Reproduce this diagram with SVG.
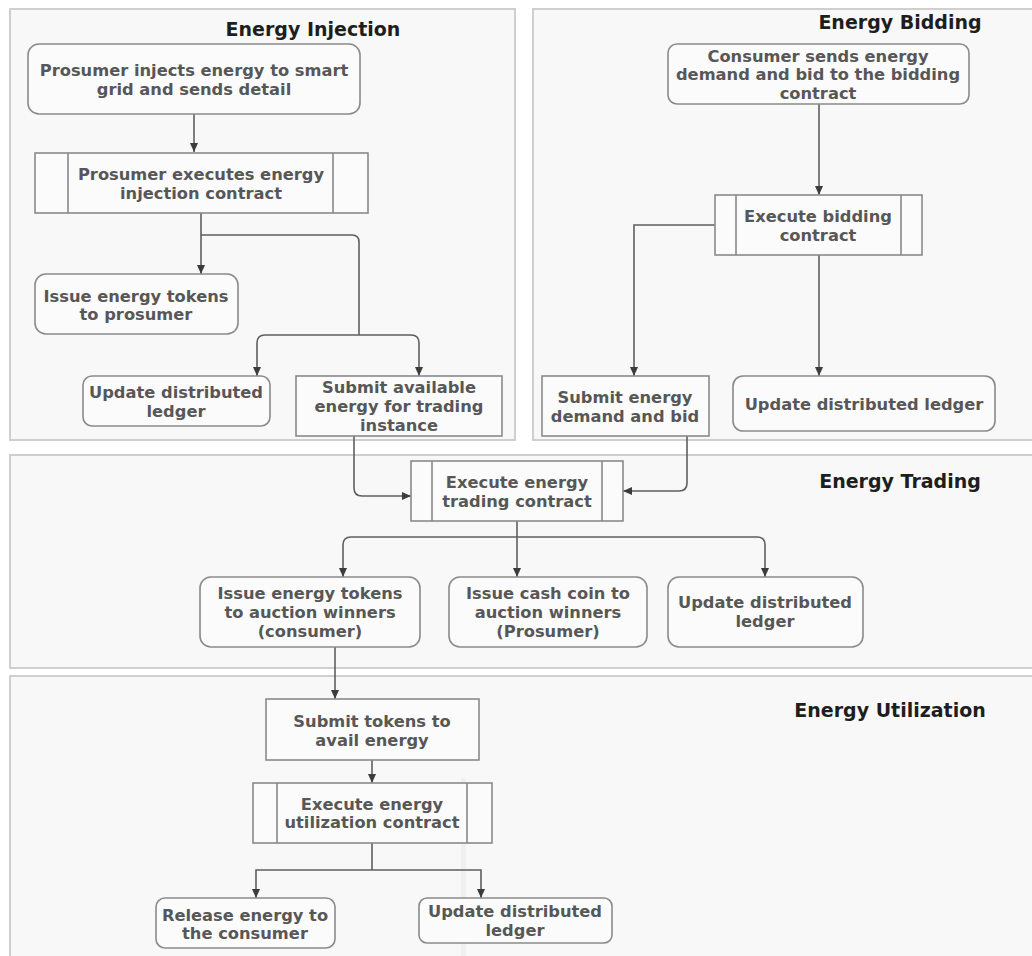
<svg xmlns="http://www.w3.org/2000/svg" width="1032" height="956" viewBox="0 0 1032 956">
  <style>
    .panel { fill: #f8f8f8; stroke: #cfcfcf; stroke-width: 2; }
    .title { font-family: "DejaVu Sans", Verdana, sans-serif; font-weight: bold; font-size: 19px; fill: #1e1e1e; text-anchor: middle; }
    .box { fill: #fbfbfb; stroke: #8a8a8a; stroke-width: 1.6; }
    .bar { fill: none; stroke: #8a8a8a; stroke-width: 1.6; }
    .lbl { font-family: "DejaVu Sans", Verdana, sans-serif; font-weight: bold; font-size: 16.3px; fill: #575757; text-anchor: middle; }
    .edge { fill: none; stroke: #5f5f5f; stroke-width: 1.6; }
    .arr { marker-end: url(#head); }
  </style>
  <defs>
    <marker id="head" markerWidth="9" markerHeight="8" refX="9" refY="4" orient="auto" markerUnits="userSpaceOnUse">
      <path d="M0,0 L9,4 L0,8 z" fill="#3c3c3c"/>
    </marker>
  </defs>

  <rect width="1032" height="956" fill="#ffffff"/>

  <!-- swimlane panels -->
  <g id="lanes">
    <rect class="panel" x="10" y="9" width="505" height="431"/>
    <rect class="panel" x="533" y="9" width="510" height="431"/>
    <rect class="panel" x="10" y="455" width="1033" height="213"/>
    <rect class="panel" x="10" y="676" width="1033" height="290"/>
    <!-- faint scan seam in the lower lane -->
    <rect x="461" y="778" width="5" height="178" fill="#ececec" opacity="0.7"/>
  </g>

  <g id="lane-titles">
    <text class="title" x="313" y="36">Energy Injection</text>
    <text class="title" x="900" y="29">Energy Bidding</text>
    <text class="title" x="900" y="488">Energy Trading</text>
    <text class="title" x="890" y="717">Energy Utilization</text>
  </g>

  <!-- connectors -->
  <g id="connectors">
    <path class="edge arr" d="M194 114 V152"/>
    <path class="edge arr" d="M201 213 V274"/>
    <path class="edge" d="M201 235 H352 Q359 235 359 242 V335"/>
    <path class="edge arr" d="M359 335 H265 Q257 335 257 343 V376"/>
    <path class="edge arr" d="M359 335 H411 Q419 335 419 343 V376"/>

    <path class="edge arr" d="M819 104 V195"/>
    <path class="edge arr" d="M715 225 H634 V376"/>
    <path class="edge arr" d="M819 255 V376"/>

    <path class="edge arr" d="M354 436 V488 Q354 496 362 496 H411"/>
    <path class="edge arr" d="M687 436 V483 Q687 491 679 491 H623"/>
    <path class="edge arr" d="M517 521 V577"/>
    <path class="edge arr" d="M517 537 H351 Q343 537 343 545 V577"/>
    <path class="edge arr" d="M517 537 H757 Q765 537 765 545 V577"/>

    <path class="edge arr" d="M335 647 V699"/>
    <path class="edge arr" d="M372 760 V783"/>
    <path class="edge" d="M372 843 V870"/>
    <path class="edge arr" d="M372 870 H256 V898"/>
    <path class="edge arr" d="M372 870 H481 V898"/>
  </g>

  <!-- Energy Injection -->
  <g id="inject-send">
    <rect class="box" x="28" y="44" width="332" height="70" rx="11"/>
    <text class="lbl" x="194" y="76">Prosumer injects energy to smart</text>
    <text class="lbl" x="194" y="95">grid and sends detail</text>
  </g>
  <g id="inject-contract">
    <rect class="box" x="35" y="153" width="333" height="60"/>
    <line class="bar" x1="68" y1="153" x2="68" y2="213"/>
    <line class="bar" x1="333" y1="153" x2="333" y2="213"/>
    <text class="lbl" x="201" y="180">Prosumer executes energy</text>
    <text class="lbl" x="201" y="199">injection contract</text>
  </g>
  <g id="inject-tokens">
    <rect class="box" x="35" y="274" width="203" height="60" rx="11"/>
    <text class="lbl" x="136" y="302">Issue energy tokens</text>
    <text class="lbl" x="136" y="320">to prosumer</text>
  </g>
  <g id="inject-ledger">
    <rect class="box" x="83" y="376" width="187" height="50" rx="9"/>
    <text class="lbl" x="176" y="398">Update distributed</text>
    <text class="lbl" x="176" y="417">ledger</text>
  </g>
  <g id="inject-submit">
    <rect class="box" x="296" y="376" width="206" height="60"/>
    <text class="lbl" x="399" y="393">Submit available</text>
    <text class="lbl" x="399" y="412">energy for trading</text>
    <text class="lbl" x="399" y="431">instance</text>
  </g>

  <!-- Energy Bidding -->
  <g id="bid-send">
    <rect class="box" x="668" y="44" width="301" height="60" rx="9"/>
    <text class="lbl" x="818" y="62">Consumer sends energy</text>
    <text class="lbl" x="818" y="80">demand and bid to the bidding</text>
    <text class="lbl" x="818" y="99">contract</text>
  </g>
  <g id="bid-contract">
    <rect class="box" x="715" y="195" width="207" height="60"/>
    <line class="bar" x1="736" y1="195" x2="736" y2="255"/>
    <line class="bar" x1="901" y1="195" x2="901" y2="255"/>
    <text class="lbl" x="818" y="222">Execute bidding</text>
    <text class="lbl" x="818" y="241">contract</text>
  </g>
  <g id="bid-submit">
    <rect class="box" x="542" y="376" width="167" height="60"/>
    <text class="lbl" x="625" y="403">Submit energy</text>
    <text class="lbl" x="625" y="422">demand and bid</text>
  </g>
  <g id="bid-ledger">
    <rect class="box" x="733" y="376" width="262" height="55" rx="10"/>
    <text class="lbl" x="864" y="410">Update distributed ledger</text>
  </g>

  <!-- Energy Trading -->
  <g id="trade-contract">
    <rect class="box" x="411" y="461" width="212" height="60"/>
    <line class="bar" x1="432" y1="461" x2="432" y2="521"/>
    <line class="bar" x1="602" y1="461" x2="602" y2="521"/>
    <text class="lbl" x="517" y="488">Execute energy</text>
    <text class="lbl" x="517" y="507">trading contract</text>
  </g>
  <g id="trade-tokens">
    <rect class="box" x="200" y="577" width="220" height="70" rx="11"/>
    <text class="lbl" x="310" y="599">Issue energy tokens</text>
    <text class="lbl" x="310" y="618">to auction winners</text>
    <text class="lbl" x="310" y="637">(consumer)</text>
  </g>
  <g id="trade-cash">
    <rect class="box" x="449" y="577" width="198" height="70" rx="11"/>
    <text class="lbl" x="548" y="599">Issue cash coin to</text>
    <text class="lbl" x="548" y="618">auction winners</text>
    <text class="lbl" x="548" y="637">(Prosumer)</text>
  </g>
  <g id="trade-ledger">
    <rect class="box" x="668" y="577" width="195" height="70" rx="11"/>
    <text class="lbl" x="765" y="608">Update distributed</text>
    <text class="lbl" x="765" y="627">ledger</text>
  </g>

  <!-- Energy Utilization -->
  <g id="use-submit">
    <rect class="box" x="266" y="699" width="213" height="61"/>
    <text class="lbl" x="372" y="727">Submit tokens to</text>
    <text class="lbl" x="372" y="746">avail energy</text>
  </g>
  <g id="use-contract">
    <rect class="box" x="253" y="783" width="239" height="60"/>
    <line class="bar" x1="277" y1="783" x2="277" y2="843"/>
    <line class="bar" x1="467" y1="783" x2="467" y2="843"/>
    <text class="lbl" x="372" y="810">Execute energy</text>
    <text class="lbl" x="372" y="828">utilization contract</text>
  </g>
  <g id="use-release">
    <rect class="box" x="156" y="898" width="179" height="50" rx="9"/>
    <text class="lbl" x="245" y="921">Release energy to</text>
    <text class="lbl" x="245" y="939">the consumer</text>
  </g>
  <g id="use-ledger">
    <rect class="box" x="419" y="898" width="193" height="45" rx="8"/>
    <text class="lbl" x="515" y="917">Update distributed</text>
    <text class="lbl" x="515" y="936">ledger</text>
  </g>
</svg>
